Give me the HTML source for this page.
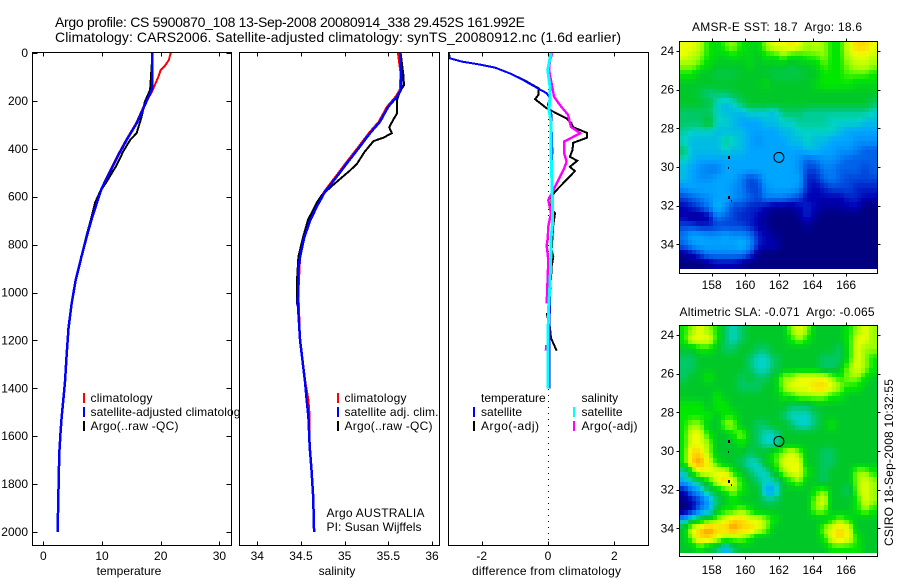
<!DOCTYPE html>
<html lang="en">
<head>
<meta charset="utf-8">
<title>Argo profile CS 5900870_108</title>
<style>
html,body{margin:0;padding:0;background:#fff;}
svg{display:block;font-family:"Liberation Sans",sans-serif;font-size:12px;fill:#000;}
</style>
</head>
<body>
<svg id="chart" width="900" height="580" viewBox="0 0 900 580" xmlns="http://www.w3.org/2000/svg">
  <defs>
    <clipPath id="legend-clip"><rect x="0" y="0" width="240" height="580"/></clipPath>
  </defs>
  <rect x="0" y="0" width="900" height="580" fill="#fff"/>
  <g id="layer-marks"></g>

  <text x="55" y="27" font-size="14" textLength="470" lengthAdjust="spacing">Argo profile: CS 5900870_108 13-Sep-2008 20080914_338 29.452S 161.992E</text>
  <text x="55" y="42" font-size="14" textLength="566" lengthAdjust="spacing">Climatology: CARS2006. Satellite-adjusted climatology: synTS_20080912.nc (1.6d earlier)</text>

  <text x="129" y="575" text-anchor="middle">temperature</text>
  <text x="337" y="575" text-anchor="middle">salinity</text>
  <text x="472" y="575" textLength="149" lengthAdjust="spacing">difference from climatology</text>

  <g>
    <rect x="83" y="393" width="2" height="10" fill="#f00"/>
    <text x="90.5" y="402" textLength="62" lengthAdjust="spacing">climatology</text>
    <rect x="83" y="407" width="2" height="10" fill="#00f"/>
    <text x="90.5" y="416" clip-path="url(#legend-clip)" textLength="156" lengthAdjust="spacing">satellite-adjusted climatology</text>
    <rect x="83" y="421" width="2" height="10" fill="#000"/>
    <text x="90.5" y="430" textLength="88" lengthAdjust="spacing">Argo(..raw -QC)</text>
  </g>

  <g>
    <rect x="337" y="393" width="2" height="10" fill="#f00"/>
    <text x="344.5" y="402" textLength="62" lengthAdjust="spacing">climatology</text>
    <rect x="337" y="407" width="2" height="10" fill="#00f"/>
    <text x="344.5" y="416" textLength="94" lengthAdjust="spacing">satellite adj. clim.</text>
    <rect x="337" y="421" width="2" height="10" fill="#000"/>
    <text x="344.5" y="430" textLength="88" lengthAdjust="spacing">Argo(..raw -QC)</text>
  </g>
  <text x="326.5" y="517" textLength="98" lengthAdjust="spacing">Argo AUSTRALIA</text>
  <text x="326.5" y="531" textLength="95" lengthAdjust="spacing">PI: Susan Wijffels</text>

  <g>
    <text x="481" y="402">temperature</text>
    <text x="581.5" y="402">salinity</text>
    <rect x="473" y="407" width="2" height="10" fill="#00f"/>
    <text x="481" y="416" textLength="41" lengthAdjust="spacing">satellite</text>
    <rect x="573" y="407" width="2" height="10" fill="#0ff"/>
    <text x="581.5" y="416" textLength="41" lengthAdjust="spacing">satellite</text>
    <rect x="473" y="421" width="2" height="10" fill="#000"/>
    <text x="481" y="430" textLength="58" lengthAdjust="spacing">Argo(-adj)</text>
    <rect x="573" y="421" width="2" height="10" fill="#f0f"/>
    <text x="581.5" y="430" textLength="56" lengthAdjust="spacing">Argo(-adj)</text>
  </g>

  <text x="692" y="31" textLength="170" lengthAdjust="spacing" style="white-space:pre">AMSR-E SST: 18.7  Argo: 18.6</text>
  <text x="679.5" y="316" textLength="195" lengthAdjust="spacing" style="white-space:pre">Altimetric SLA: -0.071  Argo: -0.065</text>
  <text transform="translate(893 546) rotate(-90)" textLength="167" lengthAdjust="spacing">CSIRO 18-Sep-2008 10:32:55</text>
</svg>

<script>
/* ---------- axis ticks ---------- */
const depthTicks = [0, 200, 400, 600, 800, 1000, 1200, 1400, 1600, 1800, 2000];
const temperatureTicks = [0, 10, 20, 30];
const salinityTicks = [34, 34.5, 35, 35.5, 36];
const salinityTickLabels = ["34", "34.5", "35", "35.5", "36"];
const differenceTicks = [-2, 0, 2];
const lonTicks = [158, 160, 162, 164, 166];
const latTicks = [24, 26, 28, 30, 32, 34];

/* ---------- temperature profile ---------- */
const climTempDepth = [0, 29, 54, 71, 99, 134, 162, 217, 294, 363, 426, 495, 565, 628, 697, 767];
const climTempValue = [21.7, 21.4, 20.7, 20.0, 19.6, 19.0, 18.5, 17.2, 15.8, 14.1, 12.7, 11.3, 9.9, 9.0, 8.1, 7.35];
const satTempDepth = [0, 147, 217, 294, 363, 426, 495, 565, 628, 697, 767, 850, 950, 1050, 1150, 1250, 1372, 1449, 1518, 1574, 1670, 1783, 1921, 2000];
const satTempValue = [18.57, 18.57, 17.3, 15.9, 14.2, 12.8, 11.4, 9.95, 9.1, 8.2, 7.4, 6.5, 5.5, 4.8, 4.3, 4.0, 3.7, 3.4, 3.13, 2.96, 2.73, 2.62, 2.5, 2.45];
const argoTempDepth = [0, 154, 203, 266, 335, 363, 412, 468, 537, 579, 626, 697, 767, 850];
const argoTempValue = [18.6, 18.2, 17.3, 16.75, 15.9, 14.8, 13.6, 12.5, 10.8, 9.66, 8.8, 8.1, 7.3, 6.45];

/* ---------- salinity profile ---------- */
const climSalDepth = [0, 85, 154, 182, 224, 287, 335, 391, 454, 516, 579, 642, 704, 774, 850, 1000, 1200, 1372, 1449, 1518, 1644];
const climSalValue = [35.61, 35.64, 35.63, 35.585, 35.485, 35.39, 35.275, 35.16, 35.025, 34.895, 34.765, 34.67, 34.59, 34.53, 34.49, 34.47, 34.49, 34.55, 34.585, 34.6, 34.6];
const satSalDepth = [0, 85, 154, 182, 224, 287, 335, 391, 454, 516, 579, 642, 704, 774, 850, 900, 1050, 1200, 1372, 1449, 1518, 1644, 1741, 1853, 2000];
const satSalValue = [35.634, 35.65, 35.645, 35.6, 35.5, 35.405, 35.29, 35.175, 35.04, 34.91, 34.775, 34.68, 34.6, 34.535, 34.49, 34.47, 34.465, 34.49, 34.546, 34.565, 34.585, 34.6, 34.62, 34.64, 34.65];
const argoSalDepth = [0, 85, 134, 162, 196, 252, 273, 310, 335, 354, 368, 412, 463, 491, 544, 593, 626, 697, 767, 850, 950, 1050];
const argoSalValue = [35.64, 35.67, 35.68, 35.63, 35.6, 35.6, 35.565, 35.51, 35.54, 35.44, 35.33, 35.23, 35.14, 35.06, 34.89, 34.74, 34.68, 34.58, 34.525, 34.47, 34.455, 34.455];

/* ---------- differences from climatology ---------- */
const satTempDiffDepth = [0, 22, 36, 47, 61, 85, 113, 141, 168, 189, 215, 260, 310, 400, 550, 700, 900, 1100, 1300, 1400];
const satTempDiffValue = [-2.99, -2.96, -2.6, -2.1, -1.6, -1.15, -0.745, -0.39, -0.04, 0.06, 0, 0.11, 0.11, 0.13, 0.12, 0.12, 0.08, 0.05, 0.04, 0.04];
const argoTempDiffDepth = [0, 22, 36, 47, 61, 85, 113, 147, 175, 193, 231, 273, 294, 310, 333, 354, 375, 405, 433, 450, 475, 493, 579, 600, 655, 668, 718, 823, 850, 892, 948];
const argoTempDiffValue = [-2.99, -2.96, -2.6, -2.1, -1.6, -1.15, -0.72, -0.29, -0.29, -0.39, -0.04, 0.56, 0.71, 0.76, 1.17, 1.17, 0.76, 0.74, 0.66, 0.88, 0.66, 0.81, 0.21, 0.11, 0.11, 0.21, 0.16, 0.11, 0.16, 0.11, 0.09];
const argoTempDiffDeepDepth = [1086, 1148, 1190, 1243];
const argoTempDiffDeepValue = [-0.04, 0.06, 0.09, 0.26];
const satSalDiffDepth = [0, 70, 141, 189, 236, 290, 410, 600, 720, 774, 825, 960, 1090, 1400];
const satSalDiffValue = [0.09, -0.01, 0.06, 0.06, 0.03, 0.09, 0.09, 0.13, 0.13, 0.09, 0.09, 0.06, 0.01, 0.0];
const argoSalDiffDepth = [0, 29, 71, 127, 182, 217, 259, 308, 335, 370, 419, 454, 482, 558, 614, 669, 725, 774, 803, 865, 1045];
const argoSalDiffValue = [0.13, 0.06, 0.03, 0.11, 0.18, 0.36, 0.61, 0.69, 0.97, 0.49, 0.49, 0.56, 0.49, 0.21, 0.01, 0.09, 0.01, -0.01, -0.04, 0.01, -0.04];
const argoSalDiffDeepDepth = [1219, 1243];
const argoSalDiffDeepValue = [-0.06, -0.07];

/* ---------- map markers ---------- */
const profileLon = [162];
const profileLat = [29.5];
const islandLon = [159.0, 159.0, 159.0, 159.2];
const islandLat = [29.5, 30.05, 31.55, 31.75];

/* ---------- SST map, colour level per 0.5 degree cell ---------- */
const sstRows = [
[10,10,9.5,8,7.5,8.5,9,8,7.5,7.5,9,10,10,10.5,10,9,9.5,9,8,8,10,11,11,10],
[10,9.5,9,8,7.5,7.5,8,7.5,7.5,7,8,8,9,8,8,8.5,8.5,9,8,8,9.5,10,10,9.5],
[9,9,8.5,7.5,7,7,7,7,7.5,7,7,7,7,6.5,7,7,7.5,8.5,8,8,9,9.5,9.5,9],
[8,8,7,7,6.5,6.5,6.5,7,7,7,7,6.5,6.5,6.5,6.5,7,7,8,8,8,8.5,8.5,8.5,8],
[7,7,7,7,7,7,7,7,7,7,7.5,7,7,7,7,7,7.5,8,8,8,8,7.5,7.5,7.5],
[7,7,6.5,5.5,6,6,6.5,7,7,7,7,7,7,7,7,7,7,7,7,7,7,7,7,7],
[7,7,7,6.5,5,4.5,5,6,7,7,7,7,7,7,7,7,7,7,7,7,7,7,7,6],
[6,6,6,6,5,4.5,4.5,4.5,5,5,5,4.5,6,6,6,5.5,5.5,5.5,5.5,5.5,5.5,5.5,5.5,5],
[6,6,6,7,5,5,4.5,4,4,4,4.5,4.5,5,5,5.5,5.5,5.5,5.5,5,5,5,5,4.5,4.5],
[5.5,5,5,5,4.5,4.5,4.5,4.5,4,4,4,4,4.5,4.5,5,5,5,5,5,4.5,4,4,4,4],
[5,4.5,4.5,4.5,4.5,5.5,5,4.5,4,3.5,4,4,4,4.5,4.5,5,4.5,4.5,4,4,4,3.5,3.5,3.5],
[6,4.5,4.5,4.5,4.5,5,4.5,4.5,4,4,4,4,4,4,4,4.5,4.5,4,4,3.5,3.5,3,2.5,2.5],
[5,4.5,4,4,4,4,4,4,4,4,4,4,4,4,3.5,2.5,3,3.5,3.5,3,2.5,2.5,2.5,2.5],
[4.5,4,3.5,3,3,4,4,4,4,4,4,4,4,4,3.5,2,2,3,3,2.5,2.5,2.5,2,2.5],
[4.5,4,3.5,3.5,4,4,4,3,2,2.5,4,4,4,4,4,1.5,1.5,2.5,3,2.5,2,2,2,2],
[3.5,4,4,4,4,4,3.5,3,2,2,3.5,4,4,4,3.5,1.5,1,1.5,2,2,2,1.5,1.5,1.5],
[2,2.5,3,3.5,4,4,3.5,3,2.5,2,3,3,3,2.5,2,1,1,1,1,1,1.5,1.5,1,1],
[1,1.5,2,3,4.5,3.5,2,2,1.5,1.5,1,0.5,0.5,0.5,1,1.5,1,0.5,0.5,0.5,1,1,0,0],
[1,0.5,0.5,1,3,2.5,2,1.5,1.5,1,0.5,0,0,0,0.5,1.5,0.5,0,0,0,0,0,0,0],
[2,2,1.5,1.5,2,2,2,2,1.5,1,0.5,0,0,0,0,0.5,0,0,0,0,0,0,0,0],
[3,4,4,3.5,3.5,4,3.5,3.5,3,1.5,1,0.5,0,0,0,0,0,0,0,0,0,0,0,0],
[2.5,3.5,4,4,4,4,4,4.5,3.5,1.5,1,1,0,0,0,0,0,0,0,0,0,0,0,0],
[0.5,1,2,3,3,3,3,3,2,0.5,0,0,0,0,0,0,0,0,0,0,0,0,0,0],
[0,0,0,0.5,1,1,1,0.5,0,0,0,0,0,0,0,0,0,0,0,0,0,0,0,0]
];

/* ---------- SLA map, colour level per 0.5 degree cell ---------- */
const slaRows = [
[8,9,10,9,8,6,5,6,7,7,7,7,7,9,10,9,7,7,7,7,8,9,10,9],
[8,10,10,10,8,6,5,6,7,7,7,7,7,8,9,8,7,7,7,7,8,10,10,9],
[7,7,8,8,7,6,6,7,7,6,6,7,7,7,7,7,7,7,7,6,8,10,9,9],
[6,6,7,7,7,7,7,7,6,5,5,6,7,7,7,7,7,6,6,6,8,10,9,8],
[6,6,7,7,7,7,7,7,6,5,5,6,7,7,7,7,7,6,6,7,9,10,9,8],
[6,7,7,8,7,7,7,6,7,6,6,7,9,9,10,10,10,10,9,8,9,9,8,7],
[7,7,7,7,7,7,7,6,6,6,7,7,9,10,10,10,11,11,10,9,8,8,7,7],
[7,7,7,7,8,7,7,7,7,7,7,7,8,8,9,9,9,9,8,8,7,7,7,7],
[8,8,8,7,8,8,7,7,7,7,7,7,7,6,6,6,7,7,7,7,7,7,7,7],
[8,8,8,8,7,8,8,7,7,7,7,7,6,5,5,5,6,7,7,7,7,7,7,7],
[8,9,9,7,7,9,9,7,7,6,6,7,7,6,5,5,6,7,8,7,7,7,7,7],
[8,10,10,8,7,7,8,9,7,6,5,5,7,7,7,7,7,7,7,7,7,7,7,7],
[8,10,10,9,7,7,7,8,7,6,5,5,7,7,7,7,7,7,7,7,7,7,7,7],
[8,11,11,9,7,7,7,7,6,7,7,8,9,10,9,7,7,6,6,7,7,7,7,7],
[8,11,12,10,8,7,7,6,5,5,7,8,10,10,10,7,7,6,6,7,7,7,7,7],
[5,8,10,10,10,10,8,7,6,5,5,7,9,10,10,8,7,6,7,7,7,9,9,8],
[4,5,6,8,10,11,10,8,7,6,5,5,7,8,9,7,7,6,7,7,7,9,10,9],
[1,3,4,6,7,8,9,8,7,7,4,4,7,7,7,7,8,9,7,7,6,9,10,9],
[0,1,2,4,6,7,8,7,7,7,6,6,7,7,7,7,9,10,7,7,7,8,10,9],
[0,1,3,4,7,8,8,9,8,7,7,7,7,7,7,7,9,9,7,7,7,8,9,8],
[4,6,7,8,9,10,11,11,10,10,9,8,7,7,7,7,7,7,8,9,8,7,7,7],
[7,10,11,12,11,11,12,11,11,10,9,7,7,7,7,7,7,9,10,11,10,7,7,7],
[7,9,11,11,10,9,9,9,8,7,7,7,7,7,7,7,7,8,10,11,10,8,7,7],
[7,7,8,7,6,4,6,7,7,7,7,7,7,7,7,7,7,7,8,8,8,8,7,7]
];

/* ---------- axis functions ---------- */
const NS = "http://www.w3.org/2000/svg";
const layer = document.getElementById("layer-marks");
const depthY = d => 53 + 0.2395 * d;
const tempX = t => 43.3 + 5.87 * t;
const salX = s => 257.3 + 87.35 * (s - 34);
const diffX = v => 548 + 33.15 * v;
const mapX = lon => 711.7 + (lon - 158) * 16.8;
const mapYTop = lat => 51 + (lat - 24) * 19.33;
const mapYBottom = lat => 335 + (lat - 24) * 19.33;

const palette = [
  [0,0,128],[0,0,180],[0,70,220],[0,125,245],[0,165,255],[0,210,200],
  [0,200,100],[0,200,40],[0,232,0],[150,255,0],[235,255,0],[255,216,0],[255,144,0]
];
function levelColor(v) {
  const t = Math.max(0, Math.min(palette.length - 1, v));
  const i = Math.min(palette.length - 2, Math.floor(t));
  const f = t - i;
  const a = palette[i];
  const b = palette[i + 1];
  const mix = k => Math.round(a[k] + (b[k] - a[k]) * f);
  return "rgb(" + mix(0) + "," + mix(1) + "," + mix(2) + ")";
}
/* bilinear read of a grid at fractional cell coordinates, so the picture is as soft as the original */
function sampleGrid(rows, u, v) {
  const rowCount = rows.length;
  const colCount = rows[0].length;
  const cu = Math.max(0, Math.min(colCount - 1, u));
  const cv = Math.max(0, Math.min(rowCount - 1, v));
  const c0 = Math.floor(cu);
  const r0 = Math.floor(cv);
  const c1 = Math.min(colCount - 1, c0 + 1);
  const r1 = Math.min(rowCount - 1, r0 + 1);
  const fu = cu - c0;
  const fv = cv - r0;
  return (rows[r0][c0] * (1 - fu) + rows[r0][c1] * fu) * (1 - fv) +
         (rows[r1][c0] * (1 - fu) + rows[r1][c1] * fu) * fv;
}
function make(tag, parent) {
  const el = document.createElementNS(NS, tag);
  parent.appendChild(el);
  return el;
}
function drawSeries(parent, name, depths, values, xFn, color, width) {
  const pts = depths.map((d, i) => xFn(values[i]).toFixed(1) + "," + depthY(d).toFixed(1)).join(" ");
  const line = make("polyline", parent);
  
  
  line.setAttribute("points", pts);
  line.setAttribute("fill", "none");
  line.setAttribute("stroke", color);
  line.setAttribute("stroke-width", width);
  line.setAttribute("shape-rendering", "crispEdges");
}
function drawFrame(parent, name, x, y, w, h) {
  const frame = make("rect", parent);
  
  
  frame.setAttribute("x", x);
  frame.setAttribute("y", y);
  frame.setAttribute("width", w);
  frame.setAttribute("height", h);
  frame.setAttribute("fill", "none");
  frame.setAttribute("stroke", "#000");
  frame.setAttribute("stroke-width", "1");
  frame.setAttribute("shape-rendering", "crispEdges");
}
function drawTick(parent, x1, y1, x2, y2) {
  const tick = make("line", parent);
  
  
  tick.setAttribute("x1", x1);
  tick.setAttribute("y1", y1);
  tick.setAttribute("x2", x2);
  tick.setAttribute("y2", y2);
  tick.setAttribute("stroke", "#000");
  tick.setAttribute("stroke-width", "1");
  tick.setAttribute("shape-rendering", "crispEdges");
}
function drawLabel(parent, x, y, anchor, str) {
  const label = make("text", parent);
  
  
  label.setAttribute("x", x);
  label.setAttribute("y", y);
  label.setAttribute("text-anchor", anchor);
  label.textContent = str;
}
function drawXAxis(parent, ticks, labels, xFn, top, bottom) {
  ticks.forEach((t, i) => {
    const x = Math.round(xFn(t)) + 0.5;
    drawTick(parent, x, top, x, top + 4);
    drawTick(parent, x, bottom - 4, x, bottom);
    drawLabel(parent, xFn(t), 560, "middle", labels[i]);
  });
}

/* ---------- temperature panel ---------- */
const tempPanel = make("g", layer);


drawSeries(tempPanel, "temperature-climatology-line", climTempDepth, climTempValue, tempX, "#f00", 2);
drawSeries(tempPanel, "temperature-argo-line", argoTempDepth, argoTempValue, tempX, "#000", 2);
drawSeries(tempPanel, "temperature-satellite-line", satTempDepth, satTempValue, tempX, "#00f", 2.5);
drawFrame(tempPanel, "temperature-panel-frame", 32.5, 52.5, 199, 493);
drawXAxis(tempPanel, temperatureTicks, temperatureTicks.map(String), tempX, 52.5, 545.5);
depthTicks.forEach(d => {
  const y = Math.round(depthY(d)) + 0.5;
  drawTick(tempPanel, 32.5, y, 37.5, y);
  drawTick(tempPanel, 226.5, y, 231.5, y);
  drawLabel(tempPanel, 28, depthY(d) + 4, "end", String(d));
});

/* ---------- salinity panel ---------- */
const salPanel = make("g", layer);


drawSeries(salPanel, "salinity-climatology-line", climSalDepth, climSalValue, salX, "#f00", 2);
drawSeries(salPanel, "salinity-argo-line", argoSalDepth, argoSalValue, salX, "#000", 2);
drawSeries(salPanel, "salinity-satellite-line", satSalDepth, satSalValue, salX, "#00f", 2.5);
drawFrame(salPanel, "salinity-panel-frame", 239.5, 52.5, 200, 493);
drawXAxis(salPanel, salinityTicks, salinityTickLabels, salX, 52.5, 545.5);

/* ---------- difference panel ---------- */
const diffPanel = make("g", layer);


const zeroLine = make("line", diffPanel);


zeroLine.setAttribute("x1", Math.round(diffX(0)) + 0.5);
zeroLine.setAttribute("x2", Math.round(diffX(0)) + 0.5);
zeroLine.setAttribute("y1", 53);
zeroLine.setAttribute("y2", 545);
zeroLine.setAttribute("stroke", "#000");
zeroLine.setAttribute("stroke-width", "1");
zeroLine.setAttribute("stroke-dasharray", "1 5");
drawSeries(diffPanel, "temperature-argo-difference-line", argoTempDiffDepth, argoTempDiffValue, diffX, "#000", 2);
drawSeries(diffPanel, "temperature-argo-difference-deep-line", argoTempDiffDeepDepth, argoTempDiffDeepValue, diffX, "#000", 2);
drawSeries(diffPanel, "temperature-satellite-difference-line", satTempDiffDepth, satTempDiffValue, diffX, "#00f", 2);
drawSeries(diffPanel, "salinity-argo-difference-line", argoSalDiffDepth, argoSalDiffValue, diffX, "#f0f", 2.4);
drawSeries(diffPanel, "salinity-argo-difference-deep-line", argoSalDiffDeepDepth, argoSalDiffDeepValue, diffX, "#f0f", 2);
drawSeries(diffPanel, "salinity-satellite-difference-line", satSalDiffDepth, satSalDiffValue, diffX, "#0ff", 3);
drawFrame(diffPanel, "difference-panel-frame", 448.5, 52.5, 200, 493);
drawXAxis(diffPanel, differenceTicks, differenceTicks.map(String), diffX, 52.5, 545.5);

/* ---------- maps ---------- */
function drawMap(name, rows, yFn, frameTop, frameBottom, labelY) {
  const map = make("g", layer);
  
  
  const lonStart = 156.1;
  const latStart = 23.5;
  const step = 0.245;
  const subRows = rows.length * 2;
  const subCols = rows[0].length * 2;
  for (let r = 0; r < subRows; r++) {
    for (let c = 0; c < subCols; c++) {
      const level = sampleGrid(rows, (c + 0.5) / 2 - 0.5, (r + 0.5) / 2 - 0.5);
      const x0 = Math.round(mapX(lonStart + c * step));
      const x1 = Math.round(mapX(lonStart + (c + 1) * step));
      const y0 = Math.round(yFn(latStart + r * step));
      const y1 = Math.round(yFn(latStart + (r + 1) * step));
      const cell = make("rect", map);
      
      
      cell.setAttribute("x", x0);
      cell.setAttribute("y", y0);
      cell.setAttribute("width", x1 - x0);
      cell.setAttribute("height", y1 - y0);
      cell.setAttribute("fill", levelColor(level));
    }
  }
  drawFrame(map, name + "-frame", 679.5, frameTop, 198, frameBottom - frameTop);
  lonTicks.forEach(lon => {
    const x = Math.round(mapX(lon)) + 0.5;
    drawTick(map, x, frameTop - 3, x, frameTop);
    drawTick(map, x, frameBottom, x, frameBottom + 3);
    drawLabel(map, mapX(lon), labelY, "middle", String(lon));
  });
  latTicks.forEach(lat => {
    const y = Math.round(yFn(lat)) + 0.5;
    drawTick(map, 676.5, y, 679.5, y);
    drawTick(map, 877.5, y, 880.5, y);
    drawLabel(map, 674, yFn(lat) + 4, "end", String(lat));
  });
  islandLon.forEach((lon, i) => {
    const dot = make("rect", map);
    
    
    dot.setAttribute("x", Math.round(mapX(lon)) - 1);
    dot.setAttribute("y", Math.round(yFn(islandLat[i])) - 1);
    dot.setAttribute("width", i % 2 === 0 ? 2 : 1);
    dot.setAttribute("height", i % 2 === 0 ? 3 : 2);
    dot.setAttribute("fill", "#000");
  });
  const marker = make("circle", map);
  
  
  marker.setAttribute("cx", mapX(profileLon[0]));
  marker.setAttribute("cy", yFn(profileLat[0]));
  marker.setAttribute("r", 5);
  marker.setAttribute("fill", "none");
  marker.setAttribute("stroke", "#000");
  marker.setAttribute("stroke-width", "1");
}
drawMap("sst-map", sstRows, mapYTop, 41.5, 273.5, 289);
drawMap("sla-map", slaRows, mapYBottom, 325.5, 556.5, 574);
</script>
</body>
</html>
